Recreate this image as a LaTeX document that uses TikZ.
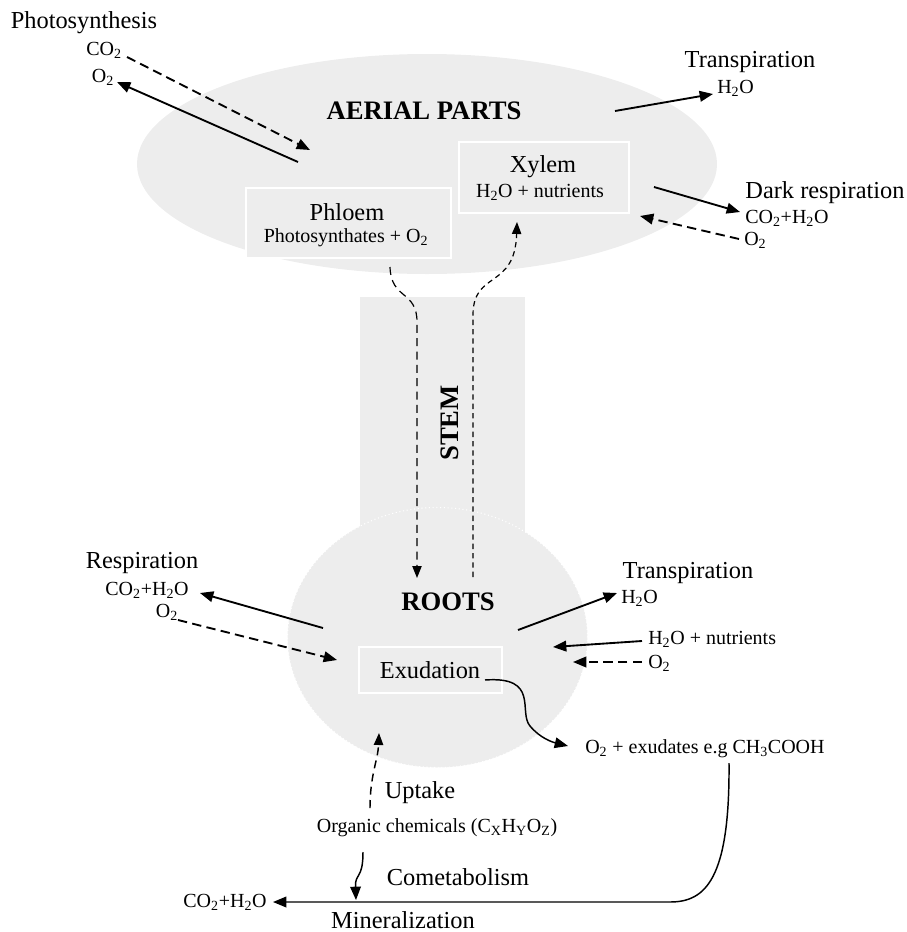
\documentclass[tikz,border=0pt]{standalone}
\usepackage{fontspec}
\setmainfont{Liberation Serif}
\usetikzlibrary{arrows.meta,shapes.geometric}
\definecolor{partgray}{HTML}{EDEDED}
\begin{document}
\begin{tikzpicture}[x=0.75pt,y=-0.75pt,
  big/.style={font=\fontsize{18.3}{20}\selectfont, inner sep=0pt},
  small/.style={font=\fontsize{15}{17}\selectfont, inner sep=0pt},
  title/.style={font=\fontsize{20}{22}\selectfont\bfseries, inner sep=0pt},
  part/.style={fill=partgray, draw=none, inner sep=0pt},
  tissue/.style={fill=partgray, draw=white, line width=0.8pt, inner sep=0pt},
  flow/.style={line width=1.4pt, -{Triangle[length=10pt,width=8pt]}},
  gasflow/.style={flow, dash pattern=on 7pt off 4pt},
  sap/.style={line width=0.9pt, dash pattern=on 5pt off 3pt, -{Triangle[length=9pt,width=7pt]}},
  curvy/.style={line width=1.1pt, -{Triangle[length=10pt,width=8pt]}},
]
\useasboundingbox (0,0) rectangle (907,932);

% plant bodies
\node[part, rectangle, minimum width=123.75pt, minimum height=197pt] (stem) at (442.5,428.5) {};
\node[part, ellipse, minimum width=435pt, minimum height=165pt] (aerial) at (427,164) {};
\node[part, ellipse, draw=white, dotted, line width=0.8pt, minimum width=225pt, minimum height=195pt] (roots) at (437.5,637.5) {};

% tissue boxes
\node[tissue, rectangle, minimum width=127.5pt, minimum height=53.25pt] (xylem) at (544,177.5) {};
\node[tissue, rectangle, minimum width=153.75pt, minimum height=52.5pt] (phloem) at (348.5,223) {};
\node[tissue, rectangle, minimum width=107.25pt, minimum height=34.5pt] (exud) at (430.5,670) {};

% titles
\node[title] (aerialT) at (424,111) {AERIAL PARTS};
\node[title, rotate=90] (stemT) at (450,423) {STEM};
\node[title] (rootsT) at (448,602) {ROOTS};

% box texts
\node[big] (xylemT) at (543,167) {Xylem};
\node[small] (xylemS) at (540,192) {H\textsubscript{2}O + nutrients};
\node[big] (phloemT) at (347,212) {Phloem};
\node[small] (phloemS) at (346,238) {Photosynthates + O\textsubscript{2}};
\node[big] (exudT) at (430,670) {Exudation};

% aerial labels
\node[big] (photoT) at (84,23) {Photosynthesis};
\node[small] (photoCO) at (104,50) {CO\textsubscript{2}};
\node[small] (photoO) at (103,77) {O\textsubscript{2}};
\node[big] (transT) at (750,62) {Transpiration};
\node[small, anchor=west] (transW) at (717,88) {H\textsubscript{2}O};
\node[big] (darkT) at (825,193) {Dark respiration};
\node[small, anchor=west] (darkC) at (745,218) {CO\textsubscript{2}+H\textsubscript{2}O};
\node[small, anchor=west] (darkO) at (744,240) {O\textsubscript{2}};

% root labels
\node[big] (respT) at (142,563) {Respiration};
\node[small] (respC) at (147,590) {CO\textsubscript{2}+H\textsubscript{2}O};
\node[small] (respO) at (167,612) {O\textsubscript{2}};
\node[big] (rtransT) at (688,573) {Transpiration};
\node[small, anchor=west] (rtransW) at (621,598) {H\textsubscript{2}O};
\node[small, anchor=west] (nutr) at (648,639) {H\textsubscript{2}O + nutrients};
\node[small, anchor=west] (rootO) at (648,663) {O\textsubscript{2}};
\node[small, anchor=west] (exuds) at (585,749) {O\textsubscript{2} + exudates e.g CH\textsubscript{3}COOH};

% soil labels
\node[big] (uptake) at (420,793) {Uptake};
\node[small] (organic) at (437,828) {Organic chemicals (C\textsubscript{X}H\textsubscript{Y}O\textsubscript{Z})};
\node[big] (comet) at (458,877) {Cometabolism};
\node[small] (mineralC) at (225,902) {CO\textsubscript{2}+H\textsubscript{2}O};
\node[big, anchor=base] (mineral) at (403,928) {Mineralization};

% connector end points
\coordinate (pIn) at (310,150);
\coordinate (pOut) at (298,162);
\coordinate (tOut) at (615,111);
\coordinate (dOut) at (654,187);
\coordinate (dIn) at (640,216);
\coordinate (phS) at (390,267);
\coordinate (phE) at (417,578);
\coordinate (xyS) at (473,577);
\coordinate (xyE) at (517,222);
\coordinate (rOut) at (323,628);
\coordinate (rIn) at (337,660);
\coordinate (rtOut) at (518,630);
\coordinate (nIn) at (553,647);
\coordinate (oIn) at (573,662);
\coordinate (exS) at (485,680);
\coordinate (exE) at (568,746);
\coordinate (loopS) at (729,763);
\coordinate (upS) at (370,808);
\coordinate (upE) at (379,733);
\coordinate (coS) at (363,852);
\coordinate (coE) at (356,900);
\coordinate (minE) at (273,902);

% photosynthesis
\draw[gasflow] (127,57) -- (pIn);
\draw[flow] (pOut) -- (117,82);
% transpiration (aerial)
\draw[flow] (tOut) -- (713,94);
% dark respiration
\draw[flow] (dOut) -- (740,212);
\draw[gasflow] (739,239) -- (dIn);
% phloem and xylem sap
\draw[sap, dash pattern=on 6pt off 4pt] (phS) .. controls (391,300) and (417,290) .. (417,322) -- (phE);
\draw[sap, dash pattern=on 4pt off 3pt] (xyS) -- (473,315) .. controls (473,270) and (515,290) .. (xyE);
% roots
\draw[flow] (rOut) -- (200,593);
\draw[gasflow] (178,620) -- (rIn);
\draw[flow] (rtOut) -- (617,593);
\draw[flow] (642,641) -- (nIn);
\draw[gasflow] (642,662) -- (oIn);
% exudation
\draw[curvy] (exS) .. controls (540,676) and (518,712) .. (530,726) .. controls (540,738) and (552,742) .. (exE);
% mineralization loop
\draw[curvy] (loopS) .. controls (730,880) and (705,902) .. (670,902) -- (minE);
% uptake
\draw[sap, line width=1.1pt, dash pattern=on 6pt off 4pt] (upS) .. controls (370,775) and (378,760) .. (upE);
% cometabolism
\draw[curvy] (coS) .. controls (363,880) and (355,872) .. (coE);
\end{tikzpicture}
\end{document}
